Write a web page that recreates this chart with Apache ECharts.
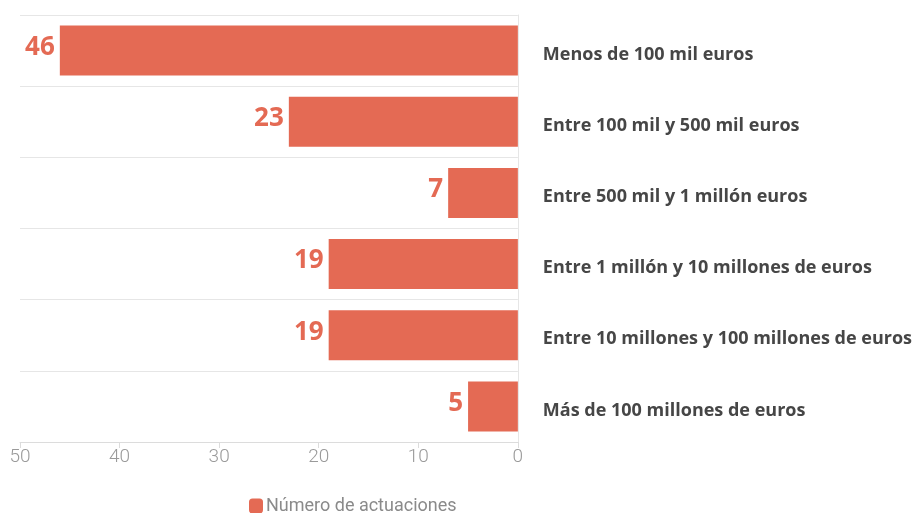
<!DOCTYPE html>
<html>
<head>
<meta charset="utf-8">
<script src="https://cdn.jsdelivr.net/npm/echarts@6/dist/echarts.min.js"></script>
<style>
  html, body { margin: 0; padding: 0; background: #fff; }
  #chart { width: 915px; height: 513px; }
</style>
</head>
<body>
<div id="chart"></div>
<script>
// datos
const categories = [
  'Menos de 100 mil euros',
  'Entre 100 mil y 500 mil euros',
  'Entre 500 mil y 1 millón euros',
  'Entre 1 millón y 10 millones de euros',
  'Entre 10 millones y 100 millones de euros',
  'Más de 100 millones de euros'
];
const actuaciones = [46, 23, 7, 19, 19, 5];
const seriesName = 'Número de actuaciones';
const barColor = '#e46a54';

const chart = echarts.init(document.getElementById('chart'));

const option = {
  animation: false,
  legend: {
    data: [seriesName],
    left: 244,
    top: 492,
    itemWidth: 14,
    itemHeight: 15,
    itemGap: 4,
    icon: 'roundRect',
    textStyle: { color: '#8a8a8a', fontSize: 18, fontFamily: 'Roboto', padding: [0, 0, 0, -2] }
  },
  grid: {
    left: 20,
    right: 396,
    top: 15,
    bottom: 71,
    containLabel: false
  },
  xAxis: {
    type: 'value',
    inverse: true,
    min: 0,
    max: 50,
    interval: 10,
    axisLine: { show: true, lineStyle: { color: '#dcdcdc' } },
    axisTick: { show: true, length: 6, lineStyle: { color: '#dcdcdc' } },
    axisLabel: { color: '#9a9a9a', fontSize: 19, fontFamily: 'Roboto', fontWeight: 300, margin: 6 },
    splitLine: { show: false }
  },
  yAxis: {
    type: 'category',
    data: categories,
    inverse: true,
    position: 'right',
    axisLine: { show: true, lineStyle: { color: '#e6e6e6' } },
    axisTick: { show: false },
    splitLine: { show: true, lineStyle: { color: '#e6e6e6' } },
    axisLabel: {
      margin: 25,
      align: 'left',
      formatter: (v) => '{c|' + v + '}',
      rich: {
        c: {
          color: '#464646',
          fontSize: 18,
          fontWeight: 'bold',
          fontFamily: 'Open Sans',
          padding: [8, 0, 0, 0]
        }
      }
    }
  },
  series: [
    {
      name: seriesName,
      type: 'bar',
      data: actuaciones,
      barWidth: 50,
      itemStyle: { color: barColor },
      label: {
        show: true,
        position: 'left',
        distance: 5,
        offset: [0, -3],
        color: barColor,
        fontSize: 26,
        fontWeight: 'bold',
        fontFamily: 'Open Sans'
      }
    }
  ]
};

chart.setOption(option);
</script>
</body>
</html>
